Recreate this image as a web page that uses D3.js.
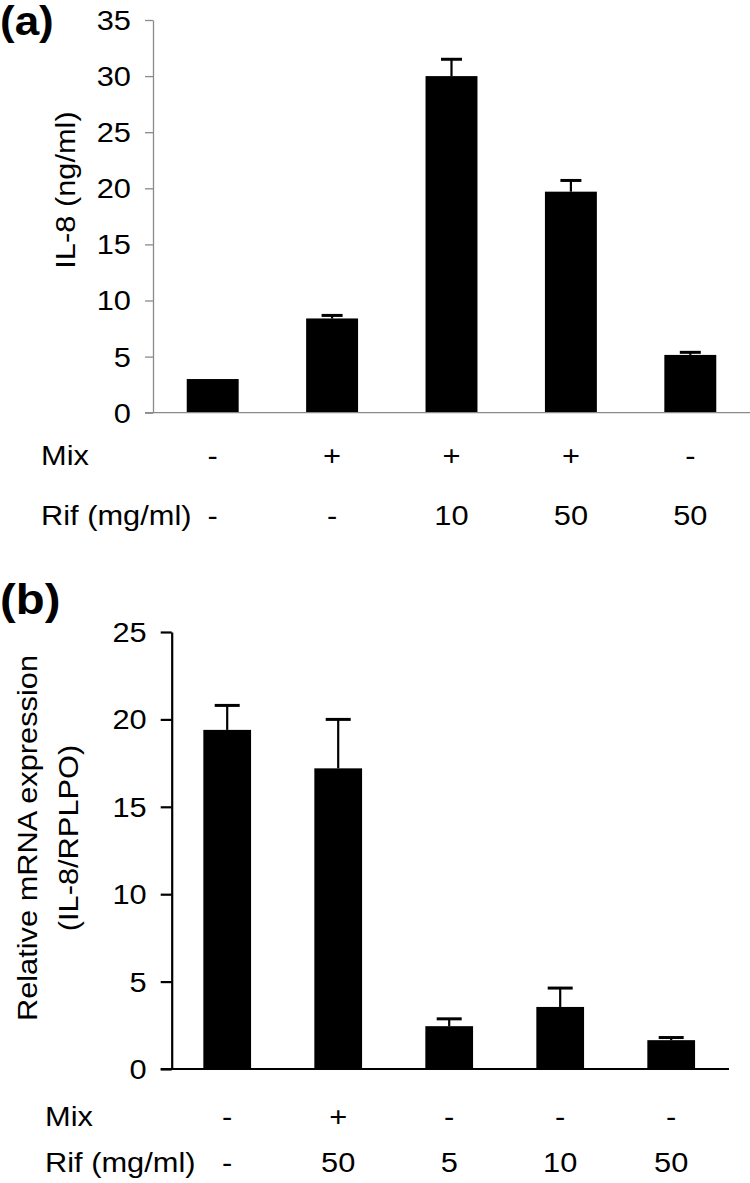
<!DOCTYPE html>
<html><head><meta charset="utf-8">
<script src="https://cdn.jsdelivr.net/npm/d3@7"></script>
<style>
body{margin:0;background:#fff}
text{font-family:"Liberation Sans",Arial,Helvetica,sans-serif;fill:#000}
</style></head>
<body><svg id="c" width="750" height="1183"></svg>
<script>
// ---- data ----
const categories = ["g1","g2","g3","g4","g5"];
const aMix = ["-","+","+","+","-"];
const aRif = ["-","-","10","50","50"];
const aValues = [3.0, 8.4, 30.0, 19.7, 5.15];
const aErrors = [0, 0.27, 1.5, 1.0, 0.23];
const aTicks = [0,5,10,15,20,25,30,35];
const bMix = ["-","+","-","-","-"];
const bRif = ["-","50","5","10","50"];
const bValues = [19.4, 17.2, 2.45, 3.55, 1.65];
const bErrors = [1.4, 2.8, 0.42, 1.08, 0.15];
const bTicks = [0,5,10,15,20,25];

const svg = d3.select("#c");
const FS = 27.5, SX = 1.12;

function htext(g, x, y, str, anchor, size, weight, sx){
  return g.append("text").attr("transform",`translate(${x},${y}) scale(${sx||SX},1)`)
    .attr("text-anchor",anchor).style("font-size",(size||FS)+"px")
    .style("font-weight",weight||"normal").text(str);
}

function panel(o){
  const g = svg.append("g");
  const x = d3.scaleBand().domain(categories).range([o.x0, o.x1]).padding(0);
  const y = d3.scaleLinear().domain([0, o.ymax]).range([o.yb, o.yt]);
  const bw = x.bandwidth()*o.barFrac;
  const cx = d => x(d)+x.bandwidth()/2;
  // bars
  g.selectAll("rect.bar").data(categories).join("rect")
    .attr("x", d=>cx(d)-bw/2).attr("width", bw)
    .attr("y", (d,i)=>y(o.values[i])).attr("height",(d,i)=>y(0)-y(o.values[i]))
    .attr("fill","#000");
  // error bars
  const eg = g.append("g").attr("stroke","#000").attr("stroke-width",o.ew);
  categories.forEach((d,i)=>{
    if(!o.errors[i]) return;
    const top = y(o.values[i]+o.errors[i]);
    eg.append("line").attr("x1",cx(d)).attr("x2",cx(d)).attr("y1",y(o.values[i])).attr("y2",top);
    eg.append("line").attr("x1",cx(d)-o.cap/2).attr("x2",cx(d)+o.cap/2).attr("y1",top).attr("y2",top)
      .attr("stroke-width",o.ew+0.8);
  });
  // y axis
  const ax = g.append("g").attr("transform",`translate(${o.x0},0)`)
    .call(d3.axisLeft(y).tickValues(o.ticks).tickSize(o.tick).tickSizeOuter(0).tickFormat(d3.format("d")));
  ax.select(".domain").attr("stroke",o.axisColor).attr("stroke-width",o.aw);
  ax.selectAll(".tick line").attr("stroke",o.axisColor).attr("stroke-width",o.aw);
  ax.selectAll(".tick text").remove();
  o.ticks.forEach(t=>{
    htext(g, o.x0-o.tick-o.labGap, y(t)+FS*0.36, String(t), "end", FS);
  });
  // baseline
  g.append("line").attr("x1",o.x0-o.tick).attr("x2",o.baseEnd).attr("y1",y(0)).attr("y2",y(0))
    .attr("stroke",o.axisColor).attr("stroke-width",o.aw);
  // row labels
  htext(g, o.rowX, o.mixY, "Mix", "start", FS);
  htext(g, o.rowX, o.rifY, "Rif (mg/ml)", "start", FS);
  categories.forEach((d,i)=>{
    htext(g, cx(d), o.mixY, o.mix[i], "middle", FS);
    htext(g, cx(d), o.rifY, o.rif[i], "middle", FS);
  });
  // panel letter
  htext(g, o.letterX, o.letterY, o.letter, "start", o.letterFS, "bold", 1.1);
  // y title
  o.ytitle.forEach((t,k)=>{
    g.append("text").attr("transform",`translate(${o.ytX[k]},${o.ytY}) rotate(-90) scale(${SX},1)`)
      .attr("text-anchor","middle").style("font-size",FS+"px").text(t);
  });
}

panel({x0:153, x1:750, yb:412.7, yt:20, ymax:35, barFrac:0.435, values:aValues, errors:aErrors,
  ticks:aTicks, tick:8, labGap:14, axisColor:"#8a8a8a", aw:1.3, ew:2.2, cap:21, baseEnd:750,
  rowX:41, mixY:465, rifY:525, mix:aMix, rif:aRif, letter:"(a)", letterX:0, letterY:35, letterFS:40,
  ytitle:["IL-8 (ng/ml)"], ytX:[75], ytY:190});

panel({x0:171.7, x1:726.7, yb:1069, yt:632, ymax:25, barFrac:0.43, values:bValues, errors:bErrors,
  ticks:bTicks, tick:11, labGap:14, axisColor:"#000", aw:2.2, ew:2.2, cap:25, baseEnd:729,
  rowX:45, mixY:1126, rifY:1172, mix:bMix, rif:bRif, letter:"(b)", letterX:0, letterY:614, letterFS:43,
  ytitle:["Relative mRNA expression","(IL-8/RPLPO)"], ytX:[37,78], ytY:838});
</script></body></html>
